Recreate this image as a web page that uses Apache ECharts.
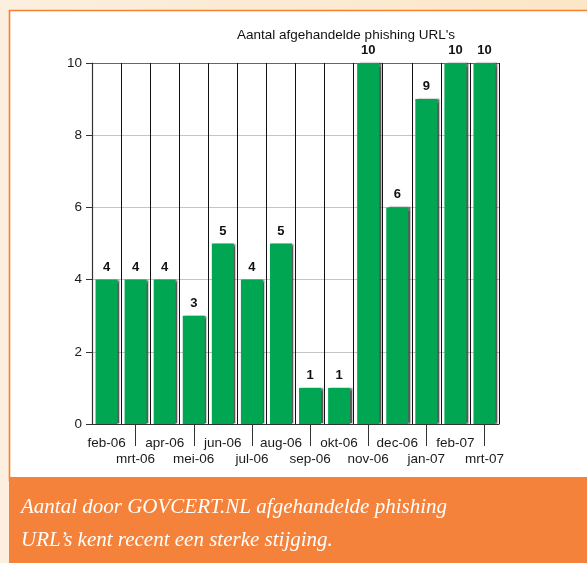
<!DOCTYPE html>
<html>
<head>
<meta charset="utf-8">
<script src="https://cdn.jsdelivr.net/npm/echarts@6/dist/echarts.min.js"></script>
<style>
  html, body { margin: 0; padding: 0; background: #fcedd8; }
  #chart { width: 587px; height: 563px; }
</style>
</head>
<body>
<div id="chart"></div>
<script>
// Monthly counts of handled phishing URLs
const months = ['feb-06', 'mrt-06', 'apr-06', 'mei-06', 'jun-06', 'jul-06', 'aug-06',
                'sep-06', 'okt-06', 'nov-06', 'dec-06', 'jan-07', 'feb-07', 'mrt-07'];
const handled = [4, 4, 4, 3, 5, 4, 5, 1, 1, 10, 6, 9, 10, 10];
const yTicks = [0, 2, 4, 6, 8, 10];
const chartTitle = "Aantal afgehandelde phishing URL's";
const captionLines = ['Aantal door GOVCERT.NL afgehandelde phishing',
                      'URL\u2019s kent recent een sterke stijging.'];

const chart = echarts.init(document.getElementById('chart'));
const sans = 'Liberation Sans, Arial, sans-serif';
const axisFont = { fontFamily: sans, fontSize: 13.5, color: '#1a1a1a' };
const plotBox = { left: 92, right: 88, top: 63, bottom: 139 };

chart.setOption({
  backgroundColor: {
    type: 'linear', x: 0, y: 0, x2: 1, y2: 0,
    colorStops: [{ offset: 0, color: '#fcefdf' }, { offset: 1, color: '#fbe6c6' }]
  },
  animation: false,
  title: {
    text: chartTitle,
    left: 341, top: 23, textAlign: 'center',
    textStyle: { fontFamily: sans, fontSize: 13.5, fontWeight: 'normal', color: '#111' }
  },
  graphic: [
    { type: 'rect', z: -10, shape: { x: 9.5, y: 10.5, width: 600, height: 470 },
      style: { fill: '#ffffff', stroke: '#f7812f', lineWidth: 1.6 } },
    { type: 'rect', z: -5, shape: { x: 9, y: 477, width: 578, height: 86 },
      style: { fill: '#f5823a' } },
    { type: 'text', left: 21, top: 497,
      style: { text: captionLines[0], fill: '#ffffff', font: 'italic 21px "Liberation Serif", "DejaVu Serif", serif' } },
    { type: 'text', left: 21, top: 530,
      style: { text: captionLines[1], fill: '#ffffff', font: 'italic 21px "Liberation Serif", "DejaVu Serif", serif' } }
  ],
  // second grid overlays the first and only carries the long ticks under the lower label row
  grid: [Object.assign({}, plotBox), Object.assign({}, plotBox)],
  xAxis: [
    {
      type: 'category', data: months, gridIndex: 0, position: 'bottom',
      axisLine: { lineStyle: { color: '#333', width: 1.2 } },
      axisTick: { alignWithLabel: true, length: 5, lineStyle: { color: '#333' } },
      axisLabel: Object.assign({}, axisFont, {
        interval: 0, margin: 11, lineHeight: 16,
        formatter: (v, i) => (i % 2 ? '\n' + v : v)
      }),
      splitLine: { show: true, lineStyle: { color: '#111', width: 1 } }
    },
    {
      type: 'category', data: months, gridIndex: 1, position: 'bottom',
      axisLine: { show: false },
      axisTick: { show: true, alignWithLabel: true, length: 22, interval: (i) => i % 2 === 1, lineStyle: { color: '#333' } },
      axisLabel: { show: false, interval: 0 },
      splitLine: { show: false }
    }
  ],
  yAxis: [
    {
      type: 'value', gridIndex: 0, min: yTicks[0], max: yTicks[yTicks.length - 1], interval: 2,
      axisLine: { show: true, lineStyle: { color: '#333', width: 1.2 } },
      axisTick: { show: true, length: 6, lineStyle: { color: '#333' } },
      axisLabel: Object.assign({}, axisFont, { margin: 10 }),
      splitLine: { show: true, lineStyle: { color: ['#999', '#c4c4c4', '#c4c4c4', '#c4c4c4', '#c4c4c4', '#666'], width: 1 } }
    },
    {
      type: 'value', gridIndex: 1, min: yTicks[0], max: yTicks[yTicks.length - 1], interval: 2,
      show: false
    }
  ],
  series: [{
    type: 'bar', xAxisIndex: 0, yAxisIndex: 0, data: handled, barWidth: 22,
    itemStyle: {
      color: '#00a651',
      shadowColor: 'rgba(60,60,60,0.85)', shadowOffsetX: 2.5, shadowOffsetY: 0, shadowBlur: 1.5
    },
    label: {
      show: true, position: 'top', distance: 6,
      fontFamily: sans, fontSize: 13, fontWeight: 'bold', color: '#111'
    }
  }]
});
</script>
</body>
</html>
